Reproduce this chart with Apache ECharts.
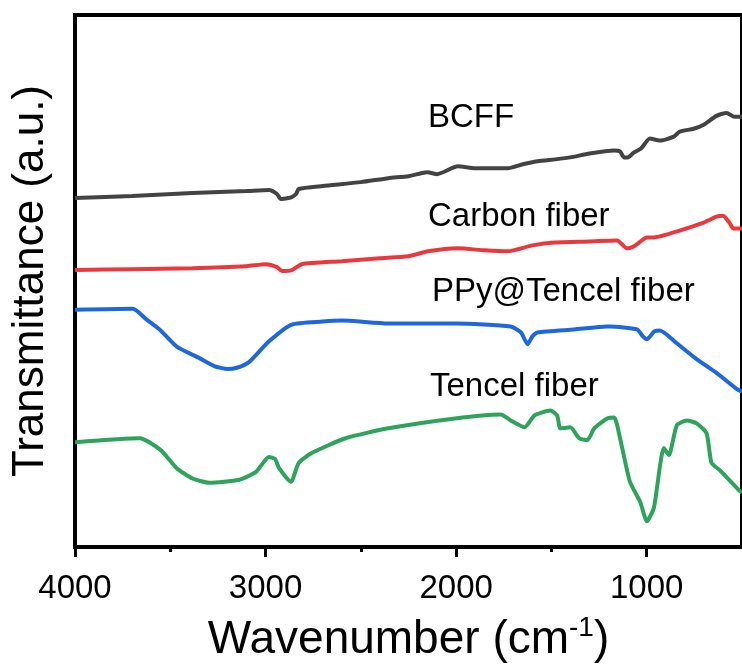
<!DOCTYPE html>
<html>
<head>
<meta charset="utf-8">
<script src="https://cdn.jsdelivr.net/npm/echarts@6/dist/echarts.min.js"></script>
<style>
  html, body { margin: 0; padding: 0; background: #fff; }
  #chart { width: 742px; height: 668px; }
</style>
</head>
<body>
<div id="chart"></div>
<script>
// FTIR spectra, stacked with vertical offsets (arbitrary units)
const tickValues = [4000, 3000, 2000, 1000];
const minorTickValues = [3500, 2500, 1500];

const bcffWn = [4000, 3700, 3384, 3100, 2982, 2940, 2920, 2880, 2862, 2840, 2826, 2700, 2500, 2356, 2250, 2184, 2150, 2100, 1991, 1900, 1834, 1730, 1650, 1573, 1480, 1401, 1300, 1171, 1140, 1119, 1100, 1067, 1030, 983, 931, 858, 827, 754, 701, 634, 581, 540, 500];
const bcffT  = [353, 355, 358, 360, 361, 357, 352, 353, 354, 357, 362, 365, 369, 373, 375, 378, 379, 377, 385, 383, 383, 383, 387, 390, 392, 394, 398, 401, 400, 394, 394, 399, 403, 413, 411, 415, 420, 423, 427, 436, 439, 435, 435];

const carbonWn = [4000, 3700, 3384, 3100, 2998, 2940, 2914, 2862, 2810, 2600, 2400, 2252, 2147, 1991, 1850, 1730, 1600, 1484, 1300, 1155, 1103, 1060, 999, 962, 827, 701, 634, 600, 566, 545, 500];
const carbonT  = [280, 281, 282, 284, 286, 283, 279, 280, 286, 289, 292, 294, 299, 302, 300, 299, 305, 308, 309, 310, 302, 305, 313, 313, 320, 328, 334, 335, 328, 322, 322];

const ppyWn = [4000, 3697, 3624, 3556, 3468, 3347, 3269, 3200, 3155, 3087, 2982, 2862, 2700, 2601, 2356, 2000, 1714, 1660, 1625, 1600, 1573, 1380, 1208, 1192, 1051, 1020, 999, 960, 931, 842, 738, 634, 529, 500];
const ppyT  = [240, 241, 230, 220, 203, 191, 183, 180, 181, 187, 208, 225, 228, 229, 226, 226, 223, 217, 205, 213, 217, 220, 223, 223, 220, 213, 210, 218, 219, 206, 190, 176, 160, 157];

const tencelWn = [4000, 3661, 3550, 3468, 3380, 3295, 3139, 3050, 2982, 2950, 2930, 2867, 2826, 2758, 2580, 2356, 2006, 1766, 1714, 1641, 1589, 1505, 1470, 1453, 1401, 1354, 1312, 1275, 1208, 1171, 1140, 1088, 1035, 999, 962, 910, 884, 842, 790, 738, 686, 660, 618, 519, 500];
const tencelT  = [106, 110, 98, 80, 69, 65, 68, 76, 91, 89, 80, 66, 85, 95, 110, 120, 130, 134, 128, 121, 133, 138, 133, 120, 121, 110, 108, 120, 130, 131, 110, 66, 46, 26, 40, 100, 93, 123, 128, 125, 115, 85, 78, 58, 55];

const curveLabels = ['BCFF', 'Carbon fiber', 'PPy@Tencel fiber', 'Tencel fiber'];
const curveColors = ['#434343', '#e8393f', '#1f68dc', '#2ea35c'];

const pairs = (xs, ys) => xs.map((x, i) => [x, ys[i]]);
const seriesData = [pairs(bcffWn, bcffT), pairs(carbonWn, carbonT), pairs(ppyWn, ppyT), pairs(tencelWn, tencelT)];

const font = '"Liberation Sans", Arial, sans-serif';

const chart = echarts.init(document.getElementById('chart'), null, { renderer: 'canvas' });

const labelPos = [
  { left: 428, y: 118 },
  { left: 428, y: 217 },
  { left: 432, y: 292 },
  { left: 430, y: 387 }
];

chart.setOption({
  animation: false,
  backgroundColor: '#fff',
  grid: {
    left: 75, top: 15, right: -7, bottom: 115,
    show: true, borderColor: '#000', borderWidth: 4, backgroundColor: 'transparent'
  },
  xAxis: [{
    type: 'value',
    inverse: true,
    min: 500, max: 4000,
    axisLine: { show: true, lineStyle: { color: '#000', width: 4 } },
    axisTick: { show: true, length: 10, lineStyle: { color: '#000', width: 3 }, customValues: tickValues },
    axisLabel: {
      show: true, margin: 25, fontSize: 33, color: '#000', fontFamily: font,
      customValues: tickValues, formatter: v => String(v)
    },
    splitLine: { show: false },
    name: 'Wavenumber (cm{sup|-1})',
    nameLocation: 'middle',
    nameGap: 67,
    nameTextStyle: {
      fontSize: 46, color: '#000', fontFamily: font,
      rich: { sup: { fontSize: 28, color: '#000', fontFamily: font, verticalAlign: 'top', padding: [0, 0, 24, 0] } }
    }
  }, {
    type: 'value',
    inverse: true,
    min: 500, max: 4000,
    position: 'bottom',
    axisLine: { show: false },
    axisTick: { show: true, length: 5, lineStyle: { color: '#000', width: 3 }, customValues: minorTickValues },
    axisLabel: { show: false },
    splitLine: { show: false }
  }],
  yAxis: {
    type: 'value',
    min: 0, max: 538,
    axisLine: { show: true, lineStyle: { color: '#000', width: 4 } },
    axisTick: { show: false },
    axisLabel: { show: false },
    splitLine: { show: false },
    name: 'Transmittance (a.u.)',
    nameLocation: 'middle',
    nameGap: 22,
    nameTextStyle: { fontSize: 44, color: '#000', fontFamily: font }
  },
  series: seriesData.map((d, i) => ({
    type: 'line',
    name: curveLabels[i],
    data: d,
    showSymbol: false,
    smooth: 0.2,
    lineStyle: { color: curveColors[i], width: 4 },
    z: 3
  })),
  graphic: curveLabels.map((t, i) => ({
    type: 'text',
    x: labelPos[i].left,
    y: labelPos[i].y,
    style: { text: t, fill: '#000', font: '33px ' + font, textVerticalAlign: 'middle' }
  }))
});
</script>
</body>
</html>
